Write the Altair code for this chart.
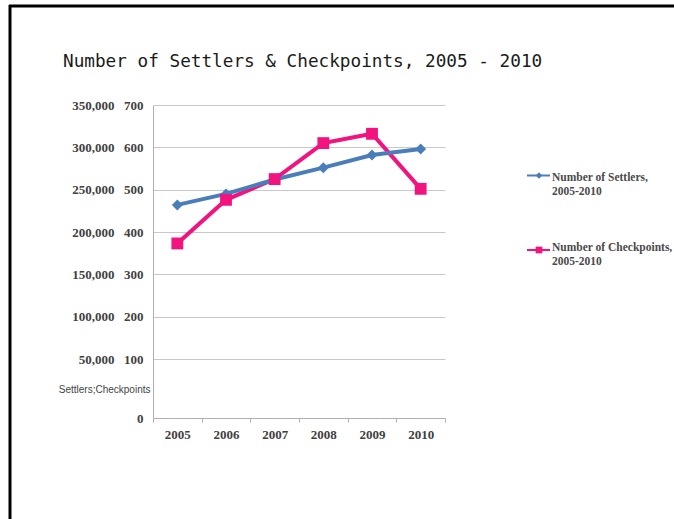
import altair as alt
import pandas as pd

# ---- data ----
years = ["2005", "2006", "2007", "2008", "2009", "2010"]
settlers = [232000, 245000, 262000, 276000, 291000, 298000]
checkpoints = [373, 476, 525, 610, 632, 502]

series_names = ["Number of Settlers, 2005-2010", "Number of Checkpoints, 2005-2010"]
legend_labels = ["Number of Settlers,\n2005-2010", "Number of Checkpoints,\n2005-2010"]
settler_ticks = [50000, 100000, 150000, 200000, 250000, 300000, 350000]
checkpoint_ticks = [0, 100, 200, 300, 400, 500, 600, 700]
title_text = "Number of Settlers & Checkpoints, 2005 - 2010"
axis_title = "Settlers;Checkpoints"

BLUE = "#4A7EBB"
PINK = "#F2137E"
LABEL_COLOR = "#404040"

df = pd.DataFrame({"year": years, "settlers": settlers, "checkpoints": checkpoints})
legend_df = pd.DataFrame({"series": series_names, "label": legend_labels})
one_df = pd.DataFrame({"k": [0]})

W, H = 292, 313
# piecewise axis as in the source chart (first interval is taller)
settler_scale = alt.Scale(domain=[0, 50000, 350000], range=[H, 254, 0], nice=False)
check_scale = alt.Scale(domain=[0, 100, 700], range=[H, 254, 0], nice=False)

x_enc = alt.X(
    "year:O",
    scale=alt.Scale(type="band", paddingInner=0, paddingOuter=0),
    bandPosition=0.5,
    axis=alt.Axis(
        title=None, labelAngle=0, labelFont="Liberation Serif", labelFontWeight="bold",
        labelFontSize=13, labelColor=LABEL_COLOR, tickBand="extent", tickColor="#b0b0b0",
        tickSize=4, domainColor="#b0b0b0", labelPadding=6, grid=False,
    ),
)

settler_axis = alt.Axis(
    orient="left", values=settler_ticks, format=",d", grid=False, domain=False, ticks=False,
    labelPadding=39, labelFont="Liberation Serif", labelFontWeight="bold", labelFontSize=13,
    labelColor=LABEL_COLOR, title=None,
)
check_axis = alt.Axis(
    orient="left", values=checkpoint_ticks, format="d", grid=True, gridColor="#c8c8c8",
    gridWidth=1, domainColor="#b0b0b0", ticks=False, labelPadding=10,
    labelFont="Liberation Serif", labelFontWeight="bold", labelFontSize=13, labelColor=LABEL_COLOR,
    title=axis_title, titleAngle=0, titleAlign="right", titleBaseline="alphabetic",
    titleX=-3, titleY=287, titleFont="Liberation Sans", titleFontSize=10,
    titleFontWeight="normal", titleColor="#444444",
)

base = alt.Chart(df)

settler_line = base.mark_line(color=BLUE, strokeWidth=4).encode(
    x=x_enc, y=alt.Y("settlers:Q", scale=settler_scale, axis=settler_axis)
)
settler_pts = base.mark_point(shape="diamond", filled=True, color=BLUE, opacity=1, size=120).encode(
    x=x_enc, y=alt.Y("settlers:Q", scale=settler_scale, axis=None)
)
check_line = base.mark_line(color=PINK, strokeWidth=4).encode(
    x=x_enc, y=alt.Y("checkpoints:Q", scale=check_scale, axis=check_axis)
)
check_pts = base.mark_point(shape="square", filled=True, color=PINK, opacity=1, size=140).encode(
    x=x_enc, y=alt.Y("checkpoints:Q", scale=check_scale, axis=None)
)

# ---- legend ----
color_enc = alt.Color("series:N", scale=alt.Scale(domain=series_names, range=[BLUE, PINK]), legend=None)
leg_y = alt.Y("series:N", scale=alt.Scale(type="point", padding=0, domain=series_names, range=[70.5, 145]), axis=None)
leg_rule = alt.Chart(legend_df).mark_rule(strokeWidth=2).encode(
    x=alt.value(374), x2=alt.value(397), y=leg_y, color=color_enc
)
leg_pt = alt.Chart(legend_df).mark_point(filled=True, opacity=1).encode(
    x=alt.value(386), y=leg_y, color=color_enc,
    shape=alt.Shape("series:N", scale=alt.Scale(domain=series_names, range=["diamond", "square"]), legend=None),
    size=alt.value(45),
)
leg_text = alt.Chart(legend_df).mark_text(
    align="left", baseline="top", lineBreak="\n", lineHeight=14,
    font="Liberation Serif", fontWeight="bold", fontSize=11.5, color="#4a4a4a",
).encode(
    x=alt.value(399),
    y=alt.Y("series:N", scale=alt.Scale(type="point", padding=0, domain=series_names, range=[67, 137]), axis=None),
    text="label:N",
)

# ---- title and slide frame ----
title = alt.Chart(one_df).mark_text(
    align="left", baseline="alphabetic", font="DejaVu Sans Mono", fontSize=17.7, color="#1a1a1a",
).encode(x=alt.value(-90), y=alt.value(-38), text=alt.value(title_text))
frame_top = alt.Chart(one_df).mark_rule(color="black", strokeWidth=3).encode(
    x=alt.value(-144), x2=alt.value(521), y=alt.value(-99)
)
frame_left = alt.Chart(one_df).mark_rule(color="black", strokeWidth=3).encode(
    x=alt.value(-143), y=alt.value(-100), y2=alt.value(414)
)

chart = alt.layer(
    check_line, settler_line, settler_pts, check_pts,
    leg_rule, leg_pt, leg_text, title, frame_top, frame_left,
).resolve_scale(y="independent").properties(
    width=W, height=H,
    autosize=alt.AutoSizeParams(type="none"),
    padding={"left": 153, "top": 105, "right": 229, "bottom": 101},
    background="white",
).configure_view(strokeWidth=0)

chart.save("out.html", embed_options={"renderer": "svg", "actions": False})
